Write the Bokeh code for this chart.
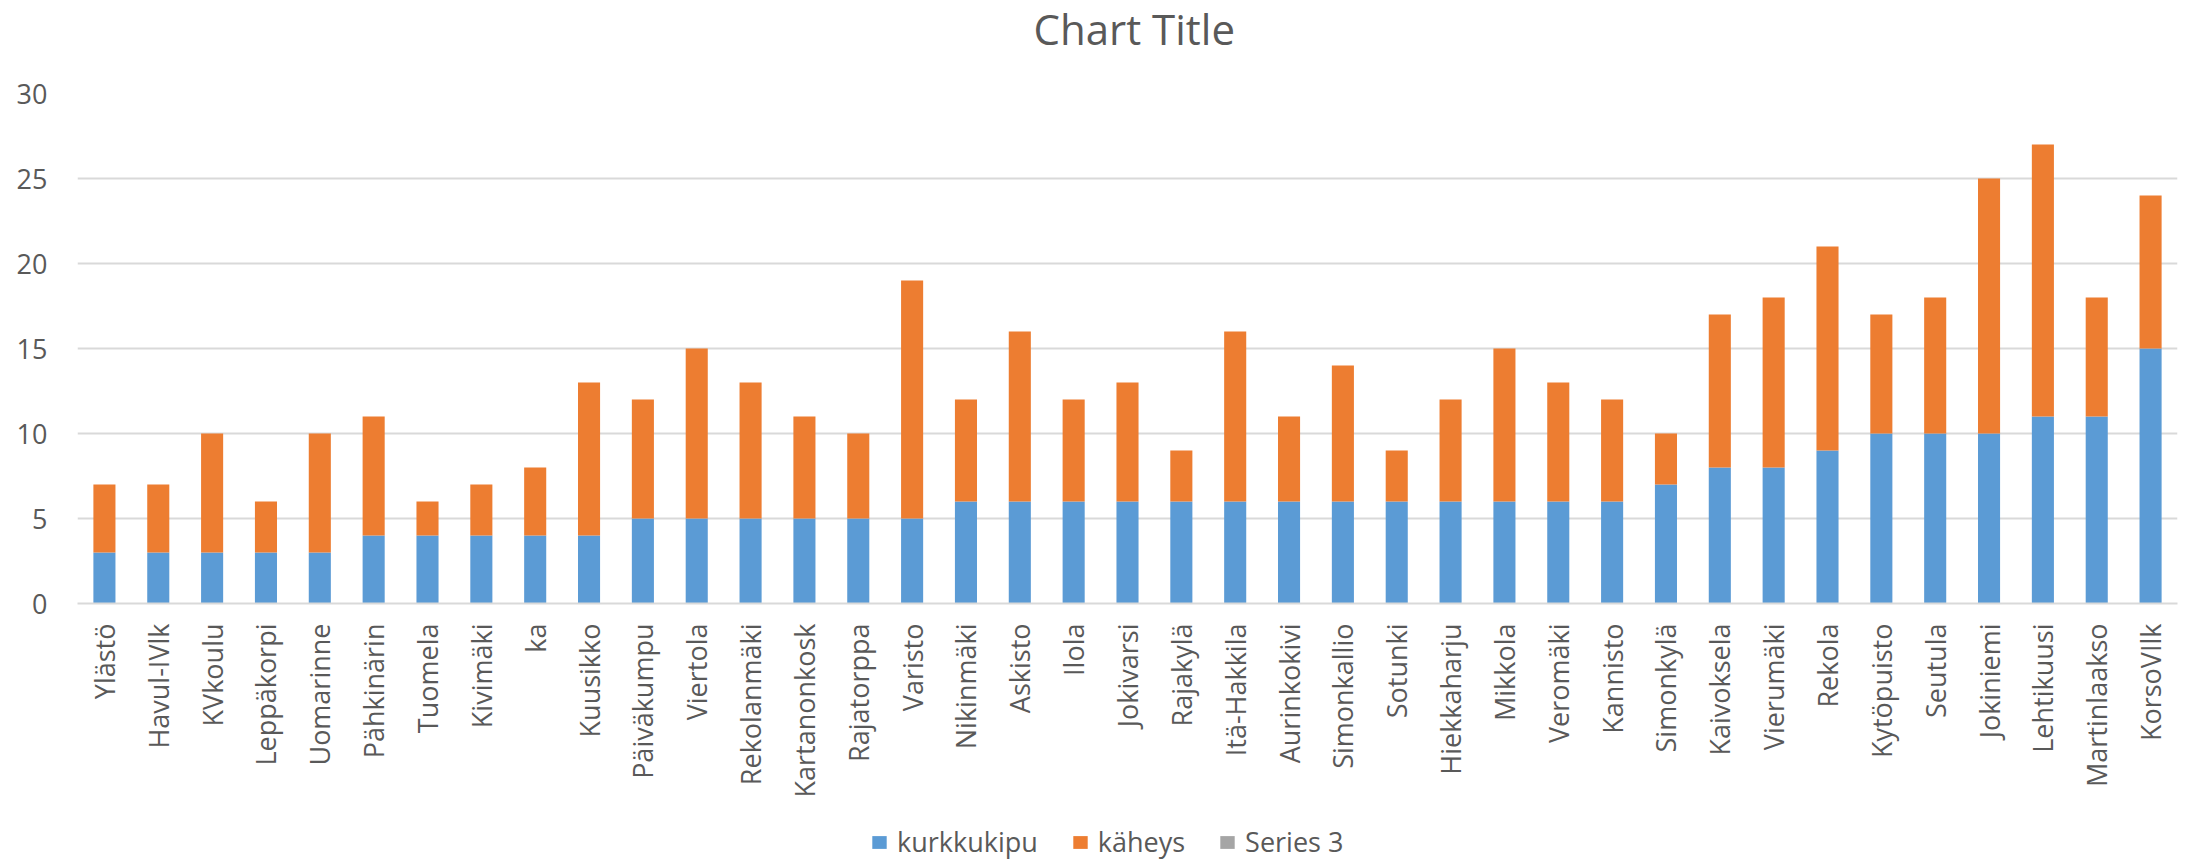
from bokeh.plotting import figure
from bokeh.layouts import column
from bokeh.models import Range1d, Legend, LegendItem, Label, ColumnDataSource
from bokeh.embed import file_html
from bokeh.resources import INLINE
import math

title_text = "Chart Title"

categories = ["Ylästö", "Havul-IVlk", "KVkoulu", "Leppäkorpi", "Uomarinne", "Pähkinärin",
              "Tuomela", "Kivimäki", "ka", "Kuusikko", "Päiväkumpu", "Viertola",
              "Rekolanmäki", "Kartanonkosk", "Rajatorppa", "Varisto", "Nikinmäki", "Askisto",
              "Ilola", "Jokivarsi", "Rajakylä", "Itä-Hakkila", "Aurinkokivi", "Simonkallio",
              "Sotunki", "Hiekkaharju", "Mikkola", "Veromäki", "Kannisto", "Simonkylä",
              "Kaivoksela", "Vierumäki", "Rekola", "Kytöpuisto", "Seutula", "Jokiniemi",
              "Lehtikuusi", "Martinlaakso", "KorsoVIlk"]

kurkkukipu = [3, 3, 3, 3, 3, 4, 4, 4, 4, 4, 5, 5, 5, 5, 5, 5, 6, 6, 6, 6, 6, 6, 6, 6,
              6, 6, 6, 6, 6, 7, 8, 8, 9, 10, 10, 10, 11, 11, 15]
kaheys = [4, 4, 7, 3, 7, 7, 2, 3, 4, 9, 7, 10, 8, 6, 5, 14, 6, 10, 6, 7, 3, 10, 5, 8,
          3, 6, 9, 7, 6, 3, 9, 10, 12, 7, 8, 15, 16, 7, 9]
series3 = [0] * len(categories)

series_names = ["kurkkukipu", "käheys", "Series 3"]
colors = ["#5B9BD5", "#ED7D31", "#A5A5A5"]
y_ticks = [0, 5, 10, 15, 20, 25, 30]

TXT = "#595959"
FONT = "Open Sans"
W = 2188

source = ColumnDataSource(data=dict(cat=categories, s1=kurkkukipu, s2=kaheys, s3=series3))

# ---------------- title strip ----------------
TH = 56
pt = figure(x_range=Range1d(0, W), y_range=Range1d(0, TH), width=W, height=TH,
            output_backend="svg", toolbar_location=None, min_border=0,
            x_axis_location=None, y_axis_location=None)
pt.outline_line_color = None
pt.grid.grid_line_color = None
pt.add_layout(Label(x=W / 2 + 7, y=28, text=title_text, text_align="center",
                    text_baseline="alphabetic", text_font=FONT, text_font_size="42px",
                    text_color=TXT))

# ---------------- main chart ----------------
p = figure(x_range=categories, y_range=Range1d(y_ticks[0], y_ticks[-1]),
           width=W, height=758, output_backend="svg", toolbar_location=None,
           min_border_left=77, min_border_right=11, min_border_top=37, min_border_bottom=211)
p.outline_line_color = None
p.background_fill_color = "white"
p.border_fill_color = "white"

p.vbar_stack(["s1", "s2", "s3"], x="cat", width=0.41, color=colors,
             line_color=None, source=source)

p.xaxis.axis_line_color = "#D9D9D9"
p.xaxis.axis_line_width = 2
p.xaxis.major_tick_line_color = None
p.xaxis.minor_tick_line_color = None
p.xaxis.major_tick_out = 0
p.xaxis.major_tick_in = 0
p.xaxis.major_label_orientation = math.pi / 2
p.xaxis.major_label_standoff = 20
p.xaxis.major_label_text_font = FONT
p.xaxis.major_label_text_font_size = "27px"
p.xaxis.major_label_text_color = TXT
p.xgrid.grid_line_color = None

p.yaxis.axis_line_color = None
p.yaxis.major_tick_line_color = None
p.yaxis.minor_tick_line_color = None
p.yaxis.major_tick_out = 0
p.yaxis.major_tick_in = 0
p.yaxis.ticker = y_ticks
p.yaxis.major_label_standoff = 30
p.yaxis.major_label_text_font = FONT
p.yaxis.major_label_text_font_size = "27px"
p.yaxis.major_label_text_color = TXT
p.ygrid.grid_line_color = "#D9D9D9"
p.ygrid.grid_line_width = 2

# ---------------- legend strip ----------------
pl = figure(x_range=categories, y_range=Range1d(0, 1), width=W, height=46,
            output_backend="svg", toolbar_location=None, min_border=0)
pl.outline_line_color = None
pl.axis.visible = False
pl.grid.grid_line_color = None
leg_renderers = pl.vbar_stack(["s1", "s2", "s3"], x="cat", width=0.41, color=colors,
                              line_color=None, source=source, visible=False)
items = [LegendItem(label=n, renderers=[r]) for n, r in zip(series_names, leg_renderers)]
legend = Legend(items=items, orientation="horizontal", location=(793, 0),
                glyph_width=18, glyph_height=16, label_standoff=9, spacing=33,
                label_text_font=FONT, label_text_font_size="27px", label_text_color=TXT,
                padding=0, margin=0, border_line_color=None, background_fill_alpha=0)
pl.add_layout(legend, "center")

layout = column(pt, p, pl, spacing=0)
open("out.html", "w").write(file_html(layout, INLINE))
